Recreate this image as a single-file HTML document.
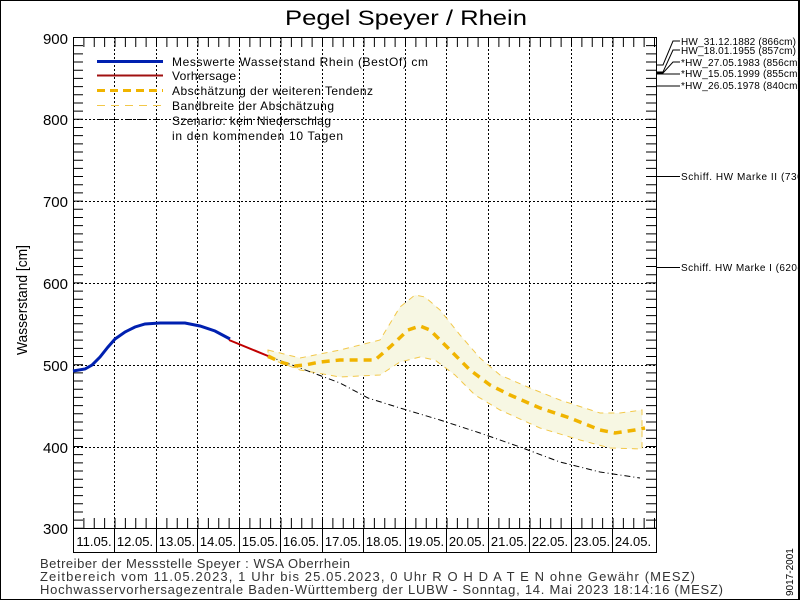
<!DOCTYPE html>
<html><head><meta charset="utf-8"><style>
html,body{margin:0;padding:0;background:#fff}
svg{display:block;font-family:"Liberation Sans",sans-serif}
</style></head><body>
<svg width="800" height="600" viewBox="0 0 800 600" xmlns="http://www.w3.org/2000/svg">
<rect x="0.5" y="0.5" width="799" height="599" fill="#fff" stroke="#000"/>
<text x="285" y="25" font-size="21" textLength="242" lengthAdjust="spacingAndGlyphs">Pegel Speyer / Rhein</text>
<g stroke="#000" stroke-width="1" stroke-dasharray="2 2">
<path d="M73 119.5H656M73 201.5H656M73 283.5H656M73 365.5H656M73 447.5H656"/>
<path d="M114.5 37V528M156.5 37V528M197.5 37V528M239.5 37V528M280.5 37V528M322.5 37V528M363.5 37V528M405.5 37V528M446.5 37V528M488.5 37V528M529.5 37V528M571.5 37V528M612.5 37V528"/>
</g>
<g stroke="#000" fill="none">
<line x1="78" y1="37" x2="78" y2="529" stroke-width="10" stroke-dasharray="1 7.18"/>
<line x1="651" y1="37" x2="651" y2="529" stroke-width="10" stroke-dasharray="1 7.18"/>
<line x1="73" y1="42" x2="657" y2="42" stroke-width="10" stroke-dasharray="1 9.375"/>
<line x1="73" y1="523" x2="657" y2="523" stroke-width="10" stroke-dasharray="1 9.375"/>
<rect x="73.5" y="37.5" width="583" height="491"/>
<rect x="73.5" y="528.5" width="583" height="24"/>
<path d="M114.5 528V553M156.5 528V553M197.5 528V553M239.5 528V553M280.5 528V553M322.5 528V553M363.5 528V553M405.5 528V553M446.5 528V553M488.5 528V553M529.5 528V553M571.5 528V553M612.5 528V553"/>
</g>
<g font-size="15" text-anchor="end">
<text x="68" y="44">900</text><text x="68" y="125">800</text><text x="68" y="207">700</text>
<text x="68" y="289">600</text><text x="68" y="371">500</text><text x="68" y="453">400</text><text x="68" y="534">300</text>
</g>
<text transform="translate(27,355) rotate(-90)" font-size="15" textLength="110" lengthAdjust="spacingAndGlyphs">Wasserstand [cm]</text>
<g font-size="13" text-anchor="middle">
<text x="94" y="546">11.05.</text><text x="135" y="546">12.05.</text><text x="177" y="546">13.05.</text>
<text x="218" y="546">14.05.</text><text x="260" y="546">15.05.</text><text x="301" y="546">16.05.</text>
<text x="343" y="546">17.05.</text><text x="384" y="546">18.05.</text><text x="426" y="546">19.05.</text>
<text x="467" y="546">20.05.</text><text x="509" y="546">21.05.</text><text x="550" y="546">22.05.</text>
<text x="592" y="546">23.05.</text><text x="633" y="546">24.05.</text>
</g>
<path d="M268 350 L300 358 L340 350 L360 345 L380 340 L400 307 L415 295 L425 297 L440 310 L460 335 L480 358 L500 375 L530 388 L560 400 L600 413 L620 413 L642 410 L642 449 L610 448 L580 440 L540 428 L500 410 L475 395 L455 375 L435 360 L420 357 L400 362 L380 375 L360 376 L340 377 L300 370 L268 358 Z" fill="#f7f7e3" stroke="#f2c84a" stroke-width="1" stroke-dasharray="6 5"/>
<path d="M268 356 L300 368 L340 383 L368 398 L400 408 L440 420 L480 433 L520 447 L560 462 L600 472 L640 478" fill="none" stroke="#000" stroke-width="1" stroke-dasharray="6 3 1 3"/>
<path d="M268 356 L280 362 L295 366 L305 365 L320 362 L340 360 L375 360 L390 347 L408 330 L420 326 L430 330 L445 345 L470 370 L490 385 L510 395 L540 408 L570 418 L600 430 L615 433 L635 430 L645 428" fill="none" stroke="#f0b400" stroke-width="3.5" stroke-dasharray="8 6"/>
<path d="M73 371 L85 369 L92 365 L100 357 L108 347 L115 339 L125 332 L135 327 L145 324 L160 323 L175 323 L185 323 L200 326 L215 331 L230 339" fill="none" stroke="#0020b0" stroke-width="3"/>
<path d="M229 340 L268 356" fill="none" stroke="#c00000" stroke-width="2"/>
<line x1="97" y1="61.5" x2="163" y2="61.5" stroke="#0020b0" stroke-width="3"/>
<line x1="97" y1="75.5" x2="163" y2="75.5" stroke="#a01010" stroke-width="2"/>
<line x1="97" y1="90.5" x2="163" y2="90.5" stroke="#f0b400" stroke-width="3" stroke-dasharray="8 5"/>
<line x1="97" y1="105.5" x2="163" y2="105.5" stroke="#f2c84a" stroke-width="1" stroke-dasharray="8 6"/>
<line x1="97" y1="119.5" x2="163" y2="119.5" stroke="#000" stroke-width="1" stroke-dasharray="7 3 1 3"/>
<g font-size="12" lengthAdjust="spacingAndGlyphs">
<text x="172" y="66" textLength="256">Messwerte Wasserstand Rhein (BestOf)   cm</text>
<text x="172" y="80" textLength="64">Vorhersage</text>
<text x="172" y="95" textLength="201">Abschätzung der weiteren Tendenz</text>
<text x="172" y="110" textLength="162">Bandbreite der Abschätzung</text>
<text x="172" y="125" textLength="159">Szenario: kein Niederschlag</text>
<text x="172" y="140" textLength="171">in den kommenden 10 Tagen</text>
</g>
<g stroke="#000" fill="none">
<path d="M657 65 L663 65 L673 41 L680 41"/>
<path d="M657 72 L663 72 L673 50 L680 50"/>
<path d="M657 73 L663 73 L673 62 L680 62"/>
<path d="M657 74 L680 74"/>
<path d="M657 86 L680 86"/>
<path d="M657 176.5 L680 176.5"/>
<path d="M657 267.5 L680 267.5"/>
</g>
<g font-size="10" lengthAdjust="spacingAndGlyphs">
<text x="681" y="45" textLength="115">HW_31.12.1882 (866cm)</text>
<text x="681" y="54" textLength="115">HW_18.01.1955 (857cm)</text>
<text x="681" y="66" textLength="120">*HW_27.05.1983 (856cm)</text>
<text x="681" y="77" textLength="120">*HW_15.05.1999 (855cm)</text>
<text x="681" y="89" textLength="120">*HW_26.05.1978 (840cm)</text>
<text x="681" y="180" textLength="140">Schiff. HW Marke II (730cm)</text>
<text x="681" y="271" textLength="134">Schiff. HW Marke I (620cm)</text>
</g>
<rect x="798" y="0" width="2" height="600" fill="#000"/>
<text transform="translate(793,596) rotate(-90)" font-size="10">9017-2001</text>
<g font-size="13" fill="#333" lengthAdjust="spacingAndGlyphs">
<text x="40" y="568" textLength="310">Betreiber der Messstelle Speyer : WSA Oberrhein</text>
<text x="40" y="581" textLength="655">Zeitbereich vom 11.05.2023, 1 Uhr bis 25.05.2023, 0 Uhr   R O H D A T E N ohne Gewähr (MESZ)</text>
<text x="40" y="594" textLength="683">Hochwasservorhersagezentrale Baden-Württemberg der LUBW - Sonntag, 14. Mai 2023 18:14:16 (MESZ)</text>
</g>
</svg>
</body></html>
